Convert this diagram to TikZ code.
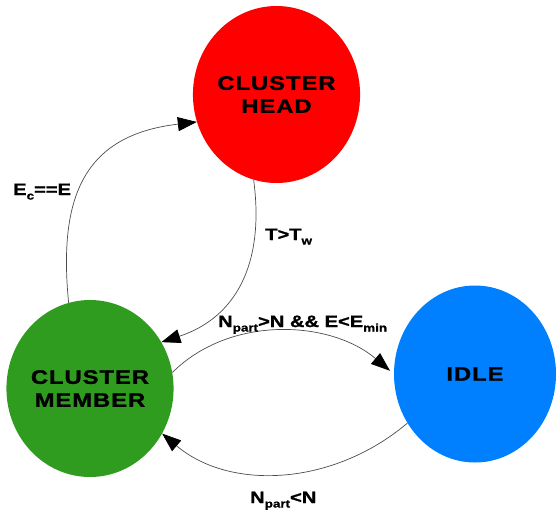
\documentclass[tikz,border=0pt]{standalone}
\usepackage{fontspec}
\setmainfont{Liberation Sans}[BoldFeatures={FakeStretch=1.22,FakeBold=1.2}]
\usetikzlibrary{shapes.geometric,arrows.meta}
\definecolor{chred}{RGB}{255,0,0}
\definecolor{cmgreen}{RGB}{47,155,31}
\definecolor{idleblue}{RGB}{0,128,255}
\newcommand{\lowsub}[1]{\raisebox{-4.5pt}{\fontsize{11}{11}\selectfont\bfseries #1}}
\tikzset{
  state/.style={ellipse, minimum width=162pt, minimum height=177pt, inner sep=0pt, align=center,
    font=\fontsize{19.5}{23}\selectfont\bfseries\addfontfeature{LetterSpace=5}},
  trans/.style={draw=black!70, line width=0.7pt, -{Triangle[length=19pt,width=14pt,color=black]}},
  lbl/.style={anchor=base west, inner sep=0pt,
    font=\fontsize{16.5}{18}\selectfont\bfseries}
}
\begin{document}
\begin{tikzpicture}[x=1pt,y=-1pt]
\useasboundingbox (0,0) rectangle (556,512);
\node[state, fill=chred] (ch) at (276.5,94.5) {CLUSTER\\HEAD};
\node[state, fill=cmgreen] (cm) at (90,388.5) {CLUSTER\\MEMBER};
\node[state, fill=idleblue] (idle) at (475,374) {IDLE};
\draw[trans] (cm.104) .. controls (58,195) and (85,135) .. (ch.199);
\draw[trans] (ch.255) .. controls (265,265) and (235,318) .. (cm.33);
\draw[trans, shorten >=5pt] (cm.11) .. controls (230,315) and (330,320) .. (idle.180);
\draw[trans] (idle.216) .. controls (333,486) and (230,491) .. (cm.328);
\node[lbl] (l1) at (13,195) {E\lowsub{c}==E};
\node[lbl] (l2) at (265,240) {T>T\lowsub{w}};
\node[lbl] (l3) at (218,327) {N\lowsub{part}>N \&\& E<E\lowsub{min}};
\node[lbl] (l4) at (250,503) {N\lowsub{part}<N};
\end{tikzpicture}
\end{document}
